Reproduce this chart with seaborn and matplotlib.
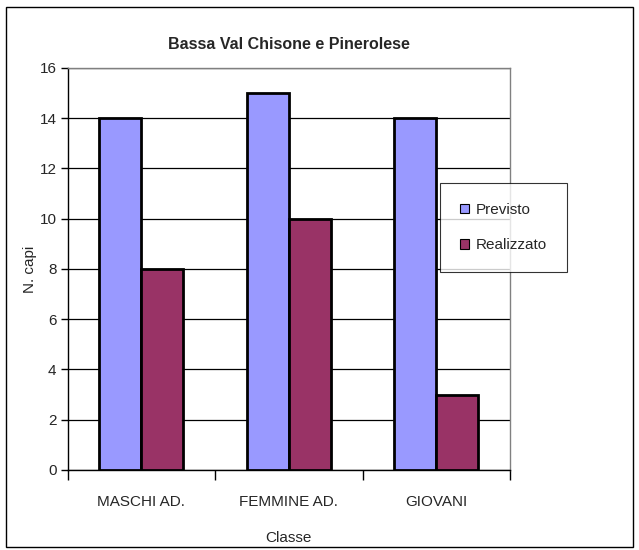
import pandas as pd
import matplotlib.pyplot as plt
import seaborn as sns
from matplotlib.patches import Rectangle

# Data
classi = ["MASCHI AD.", "FEMMINE AD.", "GIOVANI"]
previsto = [14, 15, 14]
realizzato = [8, 10, 3]

df = pd.DataFrame({
    "Classe": classi * 2,
    "N. capi": previsto + realizzato,
    "Serie": ["Previsto"] * 3 + ["Realizzato"] * 3,
})

sns.set_theme(style="white")
plt.rcParams['font.family'] = ['Liberation Sans', 'DejaVu Sans']

fig = plt.figure(figsize=(6.39, 5.5), dpi=100)
ax = fig.add_axes([0.106, 0.1455, 0.692, 0.7309])

sns.barplot(data=df, x="Classe", y="N. capi", hue="Serie",
            palette=["#9999FF", "#993366"], saturation=1, width=0.57,
            edgecolor="black", linewidth=2, ax=ax, zorder=3)

ax.set_ylim(0, 16)
ax.set_yticks(range(0, 17, 2))
ax.set_xlim(-0.5, 2.5)
ax.yaxis.grid(True, color="black", linewidth=0.9, zorder=0)
for s in ax.spines.values():
    s.set_color("#808080")
    s.set_linewidth(1)
ax.spines["left"].set_color("black")
ax.spines["bottom"].set_color("black")

fs = 11
ax.tick_params(axis="y", which="major", left=True, length=5, width=1,
               color="black", labelsize=fs, pad=3)
ax.set_xticks([0, 1, 2])
ax.set_xticklabels(classi, fontsize=fs)
ax.tick_params(axis="x", which="major", bottom=False, pad=12)
ax.set_xticks([-0.5, 0.5, 1.5, 2.5], minor=True)
ax.tick_params(axis="x", which="minor", bottom=True, length=7, width=1,
               color="black")

ax.set_xlabel("Classe", fontsize=fs, labelpad=16)
ax.set_ylabel("N. capi", fontsize=fs)
ax.yaxis.set_label_coords(-0.07, 0.5)
ax.set_title("Bassa Val Chisone e Pinerolese", fontsize=11.5, fontweight="bold", pad=14)

handles, labels = ax.get_legend_handles_labels()
ax.legend(handles, labels, loc="upper left", bbox_to_anchor=(0.689, 0.667),
          bbox_transform=fig.transFigure, frameon=True, fancybox=False,
          edgecolor="black", fontsize=fs, handlelength=0.6, handleheight=0.6,
          labelspacing=1.4, borderpad=1.3, handletextpad=0.45, borderaxespad=0)
ax.get_legend().get_frame().set_linewidth(0.8)
for h in ax.get_legend().legend_handles:
    h.set_linewidth(0.8)

fig.patches.append(Rectangle((0.01, 0.005), 0.98, 0.982, transform=fig.transFigure,
                             fill=False, edgecolor="black", linewidth=1))

fig.savefig("out.png", dpi=100)
